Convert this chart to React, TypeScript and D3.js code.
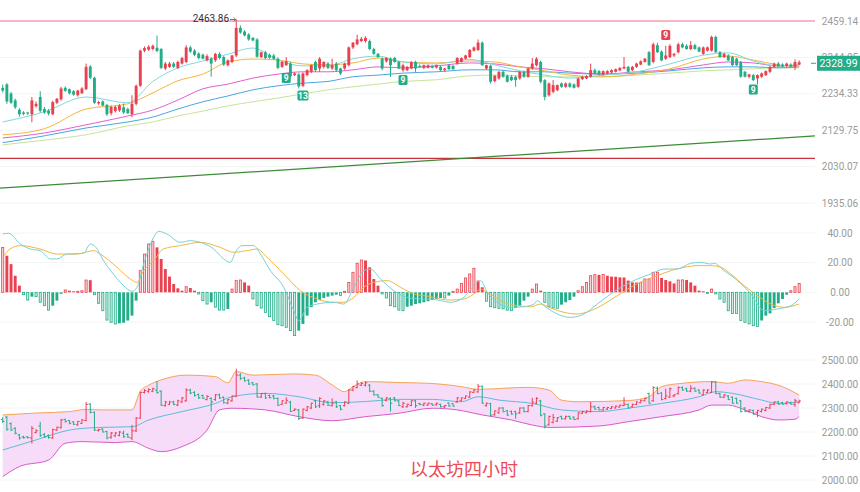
import React from "react";
import * as d3 from "d3";

// ---------- candles (4h) ----------
const opens = [
  2252,2262,2235,2215,2188,2180,2180,2175,2198,2225,
  2190,2185,2175,2208,2218,2252,2248,2242,2230,2236,
  2248,2316,2282,2206,2212,2202,2178,2184,2186,2195,
  2190,2175,2205,2258,2365,2368,2370,2374,2370,2310,
  2315,2325,2312,2325,2330,2375,2365,2356,2352,2335,
  2340,2335,2355,2345,2320,2330,2350,2437,2425,2416,
  2405,2400,2345,2360,2352,2350,2340,2315,2320,2325,
  2290,2292,2258,2290,2300,2330,2310,2315,2325,2310,
  2325,2310,2310,2320,2375,2385,2395,2395,2395,2370,
  2355,2340,2332,2340,2342,2330,2305,2305,2310,2330,
  2318,2312,2312,2318,2313,2315,2305,2320,2318,2325,
  2330,2340,2345,2365,2367,2390,2310,2318,2272,2280,
  2300,2288,2285,2285,2280,2300,2285,2310,2320,2330,
  2275,2230,2240,2245,2265,2255,2265,2262,2255,2278,
  2280,2285,2305,2302,2292,2295,2298,2300,2304,2310,
  2315,2305,2315,2322,2330,2360,2330,2382,2362,2340,
  2345,2350,2360,2385,2380,2370,2382,2375,2355,2365,
  2365,2408,2360,2345,2350,2345,2340,2330,2300,2285,
  2290,2280,2285,2290,2300,2315,2325,2322,2318,2322,
  2315,2322,
];
const highs = [
  2262,2266,2240,2220,2192,2184,2182,2225,2212,2242,
  2196,2190,2214,2222,2255,2256,2250,2245,2246,2254,
  2325,2320,2285,2214,2215,2205,2200,2200,2204,2206,
  2194,2230,2262,2368,2378,2382,2384,2412,2373,2330,
  2330,2330,2334,2346,2382,2380,2370,2360,2356,2354,
  2345,2358,2360,2348,2338,2352,2463.86,2445,2430,2420,
  2408,2404,2362,2364,2356,2355,2344,2332,2345,2330,
  2298,2296,2298,2308,2322,2334,2345,2332,2330,2340,
  2330,2312,2328,2378,2392,2415,2408,2410,2400,2374,
  2358,2344,2345,2344,2346,2333,2325,2318,2332,2334,
  2322,2322,2322,2320,2322,2318,2312,2323,2320,2345,
  2344,2352,2370,2378,2400,2394,2322,2322,2290,2302,
  2304,2292,2290,2288,2302,2304,2312,2342,2345,2334,
  2278,2268,2275,2262,2268,2268,2268,2265,2282,2288,
  2290,2325,2310,2306,2304,2305,2308,2310,2314,2345,
  2318,2318,2328,2335,2342,2364,2390,2390,2366,2380,
  2385,2358,2390,2390,2385,2395,2386,2378,2378,2378,
  2412,2412,2364,2358,2354,2348,2343,2333,2303,2294,
  2293,2292,2298,2304,2318,2328,2330,2326,2328,2326,
  2338,2335,
];
const lows = [
  2238,2205,2205,2190,2168,2172,2173,2152,2194,2180,
  2176,2172,2172,2204,2214,2240,2232,2229,2226,2234,
  2245,2278,2205,2202,2198,2170,2172,2180,2182,2176,
  2176,2166,2200,2255,2360,2364,2366,2360,2308,2305,
  2312,2312,2308,2322,2326,2358,2348,2338,2338,2332,
  2285,2330,2338,2318,2316,2326,2345,2418,2410,2396,
  2394,2343,2342,2338,2340,2336,2308,2312,2318,2283,
  2287,2250,2254,2286,2296,2300,2300,2310,2308,2306,
  2300,2290,2306,2316,2370,2382,2392,2390,2366,2352,
  2343,2305,2328,2285,2328,2308,2300,2302,2308,2300,
  2312,2308,2310,2310,2310,2302,2300,2306,2306,2322,
  2328,2338,2342,2362,2364,2318,2306,2265,2268,2276,
  2282,2268,2272,2255,2276,2282,2282,2306,2316,2265,
  2215,2226,2236,2242,2252,2252,2252,2250,2252,2275,
  2278,2282,2293,2290,2288,2292,2295,2298,2302,2308,
  2298,2302,2312,2320,2328,2318,2326,2358,2332,2336,
  2342,2345,2356,2372,2368,2366,2368,2360,2352,2362,
  2362,2358,2343,2342,2333,2318,2318,2282,2283,2280,
  2272,2262,2282,2287,2296,2312,2314,2314,2315,2314,
  2305,2320,
];
const closes = [
  2244,2212,2208,2195,2175,2176,2177,2215,2205,2185,
  2180,2177,2210,2220,2250,2243,2236,2232,2244,2250,
  2315,2282,2208,2210,2200,2175,2196,2196,2200,2180,
  2178,2205,2258,2365,2373,2377,2380,2364,2312,2325,
  2325,2315,2330,2342,2375,2362,2352,2342,2340,2348,
  2325,2355,2342,2322,2335,2350,2437,2422,2413,2400,
  2397,2346,2360,2342,2343,2340,2312,2330,2332,2286,
  2295,2256,2295,2305,2320,2305,2340,2330,2312,2320,
  2305,2295,2325,2375,2390,2400,2402,2405,2370,2355,
  2345,2310,2342,2320,2330,2310,2320,2315,2330,2310,
  2315,2320,2320,2312,2320,2305,2310,2308,2308,2342,
  2342,2350,2367,2375,2390,2320,2320,2270,2288,2300,
  2285,2270,2275,2275,2300,2285,2310,2325,2340,2270,
  2225,2265,2260,2260,2255,2265,2255,2252,2280,2285,
  2287,2305,2295,2292,2302,2302,2305,2308,2312,2315,
  2300,2315,2325,2332,2340,2320,2385,2360,2335,2350,
  2380,2355,2385,2375,2370,2382,2370,2362,2375,2375,
  2408,2360,2345,2355,2335,2320,2320,2285,2285,2292,
  2275,2290,2295,2302,2315,2325,2316,2316,2325,2316,
  2330,2328.99,
];

// ---------- moving averages on the price panel ----------
const maIdx = [0,10,20,30,36,42,48,54,60,66,72,78,84,90,96,104,112,118,124,130,136,144,152,160,168,174,180,186,191];
const maCyan = [2153,2182,2225,2208,2271,2312,2333,2354,2373,2336,2318,2318,2340,2348,2330,2324,2338,2321,2303,2290,2281,2290,2300,2324,2351,2358,2333,2318,2318];
const maOrange = [2117,2134,2190,2205,2237,2273,2293,2330,2339,2336,2324,2321,2327,2342,2330,2327,2333,2330,2315,2303,2290,2285,2293,2309,2339,2348,2336,2321,2315];
const maMagenta = [2108,2122,2145,2170,2187,2216,2249,2263,2281,2293,2300,2300,2306,2315,2312,2318,2327,2324,2315,2309,2300,2293,2300,2306,2321,2330,2327,2318,2321];
const maBlue = [2095,2114,2136,2153,2167,2190,2211,2228,2246,2258,2266,2271,2285,2290,2296,2300,2306,2306,2300,2300,2296,2293,2296,2303,2312,2315,2315,2312,2315];
const maLime = [2089,2102,2117,2142,2153,2170,2184,2199,2211,2222,2234,2246,2255,2263,2271,2276,2288,2290,2288,2285,2285,2285,2290,2296,2303,2306,2309,2312,2312];
const trendIdx = [0, 191];
const trendVals = [1974, 2111];
const upperLevel = 2459.14;
const lowerLevel = 2052;
const peakIdx = 56;
const peakLabel = "2463.86";
const lastPrice = "2328.99";

// TD-sequential style markers
const sigIdx = [68, 72, 96, 159, 180];
const sigText = ["9", "13", "9", "9", "9"];
const sigBuy = [true, true, true, false, true];
const sigPrice = [2281, 2229, 2275, 2414, 2247];

// ---------- MACD ----------
const macdHist = [
  30.3,24.7,19,11.2,4.5,-1.6,-5.2,-2.9,-2.9,-6.7,
  -9,-12,-9,-5.6,-1,1.6,1.1,0.7,0.7,1.1,
  8.3,8.2,-1.6,-7.4,-12.4,-18.7,-20.2,-21.3,-20.9,-20.5,
  -19,-15.7,-5.6,14.6,25.8,32.6,34.4,30.3,22.5,15.7,
  10.6,5.6,2.7,1.1,3.8,2.9,1.1,-1.1,-5.6,-7.9,
  -6.7,-10,-12,-12,-11.2,2.2,7.9,8.3,6.7,4.5,
  -4.5,-9,-10.6,-13.5,-16.4,-19,-21.8,-22.5,-23.6,-25.8,
  -29.2,-25.8,-21.3,-15.7,-10,-6.7,-5.2,-3.8,-2.9,-2.2,
  -1.6,-2.2,0.7,6.7,13.5,19.6,21.8,21.5,16.9,9,
  4.5,-1.1,-3.8,-9,-9.7,-12,-12.4,-9.7,-9,-7.9,
  -7.4,-6.7,-6,-5.2,-4.5,-3.8,-3.8,-2.2,0.7,2.2,
  6,9.7,12.4,16.2,7.9,3.4,-6,-9.7,-10.4,-10.8,
  -11.2,-12,-12.4,-10.6,-9,-5.6,-2.9,2.2,5.6,1.1,
  -6.7,-9.7,-10.6,-10.8,-8.3,-6.7,-5.2,-2.9,1.1,3.8,
  6.7,11.2,11.9,11.8,12,11.2,10.6,10.5,10.1,10,
  7.9,6.7,6.6,6.7,9,9.1,13.5,13.6,9.7,8.3,
  7.4,6,8.3,8.4,8.3,6.7,4.5,1.1,0.7,-0.7,
  2.2,-1.1,-4.5,-6.7,-12.4,-14.2,-14.3,-19,-20.2,-21.3,
  -22.5,-23.1,-19,-15.7,-14.2,-10.6,-7.4,-4.5,-1.6,1.1,
  3.8,6,
];
const difIdx = [0,1.4,4.2,6.6,9,11.4,13,15.4,19.4,21,22.2,24.2,26.5,29,31,32.2,33.8,35.8,37.4,39.4,42.6,45,47.4,50.6,53,54.6,55.8,57.4,60.2,61.8,64.2,67.4,69.8,71,73,75.4,79.4,81.8,84.2,86.6,88.2,90.6,93.8,97,100.2,102.6,105,107.4,110.6,113,114.6,116.2,118.6,121.8,124.9,127.4,128.2,129.8,132.2,136.2,139.4,142.6,145.8,149,152.2,155.4,158.6,161.8,165,167.4,169.8,170.6,173,176.2,179.4,182.6,185.8,189,191];
const difVal = [39.3,39.8,32.6,29.2,28.1,22.5,22.5,25.8,26.3,32.6,30.8,21.3,12.4,4.5,0.7,3.4,19.1,34.8,41.1,39.3,33.7,34.8,33.7,29.2,22.5,20.2,27,31.5,31.5,25.8,14.6,3.4,-12.4,-19.1,-10.1,-7.9,-6.7,-7.9,3.4,14.6,15.7,9,1.1,-3.4,-4.5,-4.5,-5.6,-6.7,-3.4,4.5,7.9,0,-6.7,-10.1,-9.7,-7.9,-5.6,-9,-13.5,-16.9,-14.6,-7.9,-1.1,4.5,9,12.4,15.7,15.7,19.6,20.2,19.1,19.6,14.6,7.9,-1.1,-12.4,-11.2,-9,-4.5];
const deaIdx = [0,1.75,4.2,9,13,17.8,21.8,23.4,27.4,30.6,32.2,33.8,36.2,38.5,42.6,47.4,52.2,55.4,58.6,61,63.4,67.4,71.4,75.4,79.4,81.8,84.2,86.6,89,92.2,95.4,98.6,102.6,105,107.4,110.6,113,114.6,116.2,119.4,123.4,126.6,129,131.4,134.6,137.8,141,144.2,147.4,150.6,153.8,157,160.2,163.4,166.6,169.8,172.2,174.6,177.8,181,184.2,187.4,191];
const deaVal = [23.6,29.2,31.5,29.2,25.8,25.8,28.1,25.8,16.9,9,6.7,14.6,21.3,29.2,31.5,33.7,30.3,27,28.1,29.2,23.6,12.4,1.1,-4.5,-6.7,-6.7,-3.4,3.4,6.7,7.9,3.4,-1.1,-2.9,-4.5,-5.2,-4.5,-1.1,2.2,0,-5.6,-9,-9.7,-7.9,-10.6,-13.5,-14.6,-12.4,-7.9,-2.2,3.4,7.9,11.2,14.6,16.9,18,18,16.9,12.4,4.5,-2.2,-7.9,-10.1,-7.9];

// ---------- Bollinger ----------
const bollUpIdx = [0,8,16,20,24,31,33,35,38,44,51,54,56,60,70,75,79,82,84,87,95,102,110,114,126,131,134,138,150,155,158,163,170,174,178,182,187,191];
const bollUpVal = [2271,2279,2285,2294,2292,2292,2370,2395,2417,2437,2431,2405,2452,2437,2442,2437,2396,2368,2389,2410,2406,2403,2389,2378,2386,2375,2333,2326,2331,2347,2389,2403,2410,2403,2417,2410,2389,2354];
const bollLoIdx = [0,4,11,15,19,27,31,35,38,43,49,52,55,63,71,79,87,95,103,109,115,122,127,131,143,150,158,167,170,174,178,182,186,190,191];
const bollLoVal = [2014,2056,2083,2153,2160,2156,2160,2132,2118,2139,2208,2292,2299,2292,2264,2247,2264,2278,2299,2292,2271,2250,2229,2219,2225,2243,2264,2292,2312,2312,2292,2264,2250,2253,2265];
const bollMidIdx = [0,8,16,23,31,35,43,51,55,63,71,79,87,95,103,110,114,119,127,134,143,150,158,167,171,175,182,186,191];
const bollMidVal = [2125,2167,2208,2219,2222,2250,2285,2319,2347,2361,2347,2322,2327,2336,2336,2326,2347,2333,2319,2292,2285,2299,2319,2347,2368,2361,2333,2319,2326];

// ---------- axis labels ----------
const mainTicks = [2459.14, 2344.05, 2234.33, 2129.75, 2030.07, 1935.06];
const macdTicks = [40, 20, 0, -20];
const bollTicks = [2500, 2400, 2300, 2200, 2100, 2000];
const title = "以太坊四小时";

const RED = "#e9414f";
const GREEN = "#22ad88";
const RIGHT = 815;
const LABEL_X = 840;
const FONT = "Roboto, 'Liberation Sans', Arial, sans-serif";

export default function App() {
  const n = closes.length;
  const xi = d3.scaleLinear().domain([0, n - 1]).range([2.7, 2.7 + 4.17 * (n - 1)]);
  const bw = 2.9;
  const yMain = d3.scaleLog().domain([1935.06, 2459.14]).range([203, 21]);
  const yMacd = d3.scaleLinear().domain([-20, 40]).range([322, 233]);
  const yBoll = d3.scaleLinear().domain([2000, 2500]).range([480, 360]);

  const path = (idx: number[], vals: number[], y: (v: number) => number) =>
    d3.line<number>()
      .x((_, k) => xi(idx[k]))
      .y((v) => y(v))
      .curve(d3.curveMonotoneX)(vals) || "";

  // trend line extended to the plot edges
  const tx0 = xi(trendIdx[0]), tx1 = xi(trendIdx[1]);
  const ty0 = yMain(trendVals[0]), ty1 = yMain(trendVals[1]);
  const slope = (ty1 - ty0) / (tx1 - tx0);
  const trendPath = `M0,${ty0 - slope * tx0}L${RIGHT},${ty0 + slope * (RIGHT - tx0)}`;

  const bollArea = (() => {
    const up = path(bollUpIdx, bollUpVal, yBoll);
    const loPts = bollLoIdx.map((d, k) => [xi(d), yBoll(bollLoVal[k])] as [number, number]).reverse();
    const lo = d3.line().curve(d3.curveMonotoneX)(loPts) || "";
    return up + "L" + lo.slice(1) + "Z";
  })();

  const lastY = yMain(closes[n - 1]);

  return (
    <svg width={860} height={492} style={{ position: "fixed", left: 0, top: 0, background: "#fff" }}>
      <rect x={0} y={0} width={860} height={492} fill="#fff" />
      {/* grid */}
      {mainTicks.map((t, k) => (
        <line key={"gm" + k} x1={0} x2={RIGHT} y1={yMain(t)} y2={yMain(t)} stroke="#f4f4f4" />
      ))}
      {macdTicks.map((t, k) => (
        <line key={"gd" + k} x1={0} x2={RIGHT} y1={yMacd(t)} y2={yMacd(t)} stroke="#f4f4f4" />
      ))}
      {bollTicks.map((t, k) => (
        <line key={"gb" + k} x1={0} x2={RIGHT} y1={yBoll(t)} y2={yBoll(t)} stroke="#f4f4f4" />
      ))}

      {/* ---- main panel ---- */}
      <line x1={0} x2={RIGHT} y1={yMain(upperLevel)} y2={yMain(upperLevel)} stroke="#f2a0b2" strokeWidth={1.5} />
      <line x1={0} x2={RIGHT} y1={yMain(lowerLevel)} y2={yMain(lowerLevel)} stroke="#c8303c" strokeWidth={1.2} />
      <path d={trendPath} stroke="#3d8b37" strokeWidth={1.2} fill="none" />
      <path d={path(maIdx, maLime, yMain)} stroke="#c5e59a" strokeWidth={1} fill="none" />
      <path d={path(maIdx, maBlue, yMain)} stroke="#4aa6e0" strokeWidth={1} fill="none" />
      <path d={path(maIdx, maMagenta, yMain)} stroke="#e35fd0" strokeWidth={1} fill="none" />
      <path d={path(maIdx, maOrange, yMain)} stroke="#f5b53f" strokeWidth={1} fill="none" />
      <path d={path(maIdx, maCyan, yMain)} stroke="#7fd9dc" strokeWidth={1} fill="none" />
      {closes.map((c, i) => {
        const o = opens[i];
        const up = c >= o;
        const col = up ? RED : GREEN;
        const x = xi(i);
        const top = yMain(Math.max(o, c));
        const bot = yMain(Math.min(o, c));
        return (
          <g key={"c" + i}>
            <line x1={x} x2={x} y1={yMain(highs[i])} y2={yMain(lows[i])} stroke={col} strokeWidth={1} />
            <rect x={x - bw / 2} y={top} width={bw} height={Math.max(1, bot - top)} fill={col} />
          </g>
        );
      })}
      {/* peak marker */}
      <text x={229} y={22} fontSize={10} fill="#333" textAnchor="end" fontFamily={FONT}>{peakLabel}</text>
      <path
        d={`M230,${yMain(highs[peakIdx])}L${xi(peakIdx) - 0.5},${yMain(highs[peakIdx])}M${xi(peakIdx) - 2.5},${yMain(highs[peakIdx]) - 2}L${xi(peakIdx) - 0.5},${yMain(highs[peakIdx])}L${xi(peakIdx) - 2.5},${yMain(highs[peakIdx]) + 2}`}
        stroke="#555" strokeWidth={0.8} fill="none"
      />
      {/* signal markers */}
      {sigIdx.map((d, k) => {
        const w = sigText[k].length > 1 ? 11 : 9;
        const cx = xi(d);
        const cy = yMain(sigPrice[k]);
        return (
          <g key={"s" + k}>
            <rect x={cx - w / 2} y={cy - 5} width={w} height={10} rx={1.5} fill={sigBuy[k] ? GREEN : RED} />
            <text x={cx} y={cy + 3.3} fontSize={8.5} fontWeight="bold" fill="#fff" textAnchor="middle" fontFamily={FONT}>{sigText[k]}</text>
          </g>
        );
      })}

      {/* ---- MACD panel ---- */}
      {macdHist.map((v, i) => {
        const prev = i > 0 ? macdHist[i - 1] : 0;
        const growing = i === 0 || Math.sign(v) !== Math.sign(prev) || Math.abs(v) >= Math.abs(prev);
        const col = v >= 0 ? RED : GREEN;
        const light = v >= 0 ? "#fbd3d7" : "#cdeee3";
        const y0 = yMacd(0);
        const y1 = yMacd(v);
        const top = Math.min(y0, y1);
        const h = Math.max(0.8, Math.abs(y1 - y0));
        const x = xi(i);
        return growing ? (
          <rect key={"h" + i} x={x - bw / 2 + 0.4} y={top} width={bw - 0.8} height={h} fill={light} stroke={col} strokeWidth={0.8} />
        ) : (
          <rect key={"h" + i} x={x - bw / 2} y={top} width={bw} height={h} fill={col} />
        );
      })}
      <path d={path(deaIdx, deaVal, yMacd)} stroke="#f5b53f" strokeWidth={1} fill="none" />
      <path d={path(difIdx, difVal, yMacd)} stroke="#74d3d8" strokeWidth={1} fill="none" />

      {/* ---- Bollinger panel ---- */}
      <path d={bollArea} fill="#f6dcf8" stroke="none" />
      <path d={path(bollUpIdx, bollUpVal, yBoll)} stroke="#f3a556" strokeWidth={1} fill="none" />
      <path d={path(bollLoIdx, bollLoVal, yBoll)} stroke="#d95ac8" strokeWidth={1} fill="none" />
      <path d={path(bollMidIdx, bollMidVal, yBoll)} stroke="#5cbcd8" strokeWidth={1} fill="none" />
      {closes.map((c, i) => {
        const o = opens[i];
        const col = c >= o ? RED : GREEN;
        const x = xi(i);
        return (
          <g key={"b" + i} stroke={col} strokeWidth={1}>
            <line x1={x} x2={x} y1={yBoll(highs[i])} y2={yBoll(lows[i])} />
            <line x1={x - 1.8} x2={x} y1={yBoll(o)} y2={yBoll(o)} />
            <line x1={x} x2={x + 1.8} y1={yBoll(c)} y2={yBoll(c)} />
          </g>
        );
      })}

      {/* ---- right axis ---- */}
      {mainTicks.map((t, k) => (
        <text key={"tm" + k} x={LABEL_X} y={yMain(t) + 3.5} fontSize={10} fill="#9a9a9a" textAnchor="middle" fontFamily={FONT}>{t.toFixed(2)}</text>
      ))}
      {macdTicks.map((t, k) => (
        <text key={"td" + k} x={LABEL_X} y={yMacd(t) + 3.5} fontSize={10} fill="#9a9a9a" textAnchor="middle" fontFamily={FONT}>{t.toFixed(2)}</text>
      ))}
      {bollTicks.map((t, k) => (
        <text key={"tb" + k} x={LABEL_X} y={yBoll(t) + 3.5} fontSize={10} fill="#9a9a9a" textAnchor="middle" fontFamily={FONT}>{t.toFixed(2)}</text>
      ))}
      {/* last price tag (covers the neighbouring tick, as in the source) */}
      <line x1={811} x2={816} y1={lastY + 1} y2={lastY + 1} stroke={GREEN} strokeWidth={1} />
      <rect x={817} y={lastY - 6.5} width={43} height={15} fill={GREEN} />
      <text x={838.5} y={lastY + 4.5} fontSize={10.5} fill="#fff" textAnchor="middle" fontFamily={FONT}>{lastPrice}</text>

      {/* title */}
      <text x={410} y={476} fontSize={18} fill="#ee4a55" fontFamily="'Noto Sans CJK SC', sans-serif">{title}</text>
    </svg>
  );
}
